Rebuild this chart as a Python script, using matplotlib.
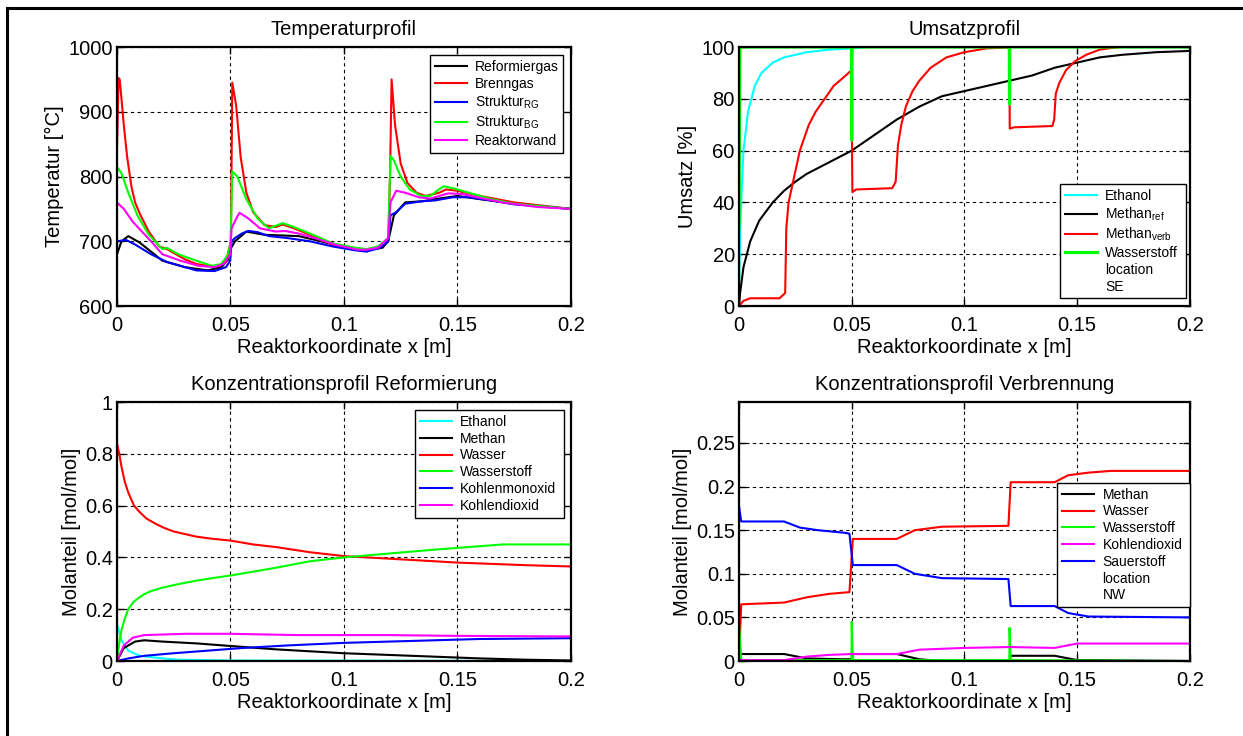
import numpy as np
import matplotlib
matplotlib.use("Agg")
import matplotlib.pyplot as plt
from matplotlib.lines import Line2D
from matplotlib.patches import Rectangle

plt.rcParams['font.family'] = ['Liberation Sans', 'DejaVu Sans']
plt.rcParams['mathtext.fontset'] = 'custom'
plt.rcParams['mathtext.rm'] = 'Liberation Sans'
plt.rcParams['mathtext.it'] = 'Liberation Sans'

# ---------------- Temperaturprofil ----------------
x_ref = [0, 0.002, 0.005, 0.01, 0.02, 0.03, 0.04, 0.046, 0.049, 0.0503, 0.052, 0.057, 0.065,
         0.08, 0.09, 0.1, 0.11, 0.117, 0.1195, 0.122, 0.127, 0.135, 0.14, 0.15, 0.16, 0.175, 0.2]
T_ref = [680, 700, 708, 698, 670, 660, 655, 660, 672, 690, 700, 715, 710,
         708, 700, 690, 686, 690, 700, 740, 760, 762, 765, 770, 765, 758, 750]

x_brenn = [0, 0.0007, 0.0012, 0.002, 0.003, 0.0045, 0.0064, 0.008, 0.01, 0.014, 0.0186, 0.022,
           0.025, 0.03, 0.035, 0.04, 0.045, 0.048, 0.0502, 0.0508, 0.0525, 0.0545, 0.057,
           0.06, 0.065, 0.07, 0.073, 0.078, 0.085, 0.095, 0.105, 0.11, 0.115, 0.1195, 0.1203,
           0.121, 0.1225, 0.125, 0.128, 0.132, 0.136, 0.142, 0.145, 0.15, 0.16, 0.175, 0.2]
T_brenn = [840, 952, 950, 920, 880, 830, 784, 760, 743, 715, 692, 688,
           682, 672, 665, 662, 662, 668, 700, 945, 910, 830, 775,
           745, 725, 722, 726, 720, 710, 695, 688, 686, 690, 700, 800,
           950, 880, 820, 790, 775, 770, 775, 780, 778, 770, 760, 750]

x_srg = [0, 0.004, 0.008, 0.015, 0.022, 0.03, 0.035, 0.043, 0.048, 0.0499, 0.0505, 0.052, 0.055,
         0.058, 0.062, 0.067, 0.075, 0.085, 0.095, 0.105, 0.11, 0.116, 0.1195, 0.1205, 0.123,
         0.127, 0.135, 0.14, 0.148, 0.155, 0.165, 0.175, 0.2]
T_srg = [700, 702, 695, 680, 668, 660, 655, 654, 660, 670, 700, 705, 712,
         716, 714, 708, 705, 700, 692, 686, 684, 690, 700, 740, 745,
         758, 762, 763, 768, 768, 763, 757, 750]

x_sbg = [0, 0.002, 0.005, 0.009, 0.014, 0.02, 0.022, 0.027, 0.035, 0.042, 0.046, 0.049, 0.0501,
         0.0508, 0.053, 0.057, 0.062, 0.067, 0.073, 0.078, 0.085, 0.095, 0.105, 0.11, 0.115,
         0.1195, 0.1205, 0.122, 0.125, 0.129, 0.134, 0.138, 0.141, 0.144, 0.148, 0.155, 0.165,
         0.175, 0.2]
T_sbg = [815, 805, 775, 740, 710, 688, 690, 680, 670, 662, 665, 680, 700,
         808, 800, 765, 735, 720, 728, 722, 712, 697, 690, 688, 692,
         705, 832, 825, 800, 780, 770, 770, 778, 785, 782, 775, 765,
         758, 750]

x_wand = [0, 0.003, 0.007, 0.015, 0.02, 0.028, 0.036, 0.043, 0.047, 0.0499, 0.0505, 0.053, 0.054,
          0.058, 0.063, 0.07, 0.074, 0.08, 0.087, 0.097, 0.106, 0.11, 0.115, 0.1195, 0.1205,
          0.123, 0.127, 0.133, 0.138, 0.142, 0.146, 0.152, 0.16, 0.17, 0.185, 0.2]
T_wand = [760, 750, 730, 700, 680, 670, 662, 660, 665, 680, 720, 738, 744,
          735, 720, 715, 716, 712, 705, 694, 687, 687, 690, 705, 760,
          778, 775, 768, 766, 770, 774, 773, 767, 760, 753, 750]

# ---------------- Umsatzprofil ----------------
x_eth = [0, 0.0005, 0.002, 0.004, 0.007, 0.01, 0.015, 0.02, 0.03, 0.04, 0.05, 0.057]
U_eth = [0, 30, 60, 75, 85, 90, 94, 96, 98, 99, 99.5, 100]

x_mref = [0, 0.0005, 0.002, 0.005, 0.009, 0.015, 0.02, 0.025, 0.03, 0.04, 0.05, 0.06, 0.07,
          0.08, 0.09, 0.1, 0.11, 0.12, 0.13, 0.14, 0.15, 0.16, 0.17, 0.185, 0.2]
U_mref = [0, 5, 15, 25, 33, 40, 44.5, 48, 51, 55.5, 60, 66, 72,
          77, 81, 83, 85, 87, 89, 92, 94, 96, 97, 98, 98.5]

x_mverb = [0, 0.002, 0.005, 0.018, 0.0205, 0.021, 0.022, 0.0245, 0.027, 0.031, 0.034, 0.038,
           0.042, 0.046, 0.0499, 0.0501, 0.0503, 0.052, 0.068, 0.0695, 0.0705, 0.072, 0.074,
           0.077, 0.08, 0.085, 0.092, 0.1, 0.11, 0.1199, 0.1201, 0.122, 0.139, 0.1398, 0.1405,
           0.142, 0.145, 0.149, 0.154, 0.16, 0.165, 0.169]
U_mverb = [0, 2, 3, 3, 5, 30, 40, 50, 60, 70, 75, 80,
           85, 88, 91, 64, 44, 45, 45.5, 48, 62, 70, 77,
           83, 87, 92, 96, 98, 99.5, 99.8, 68.5, 69, 69.5, 72, 82,
           86, 91, 94.5, 97, 99, 99.6, 100]

x_h2u = [0, 0.0004, 0.0499, 0.05, 0.0501, 0.1199, 0.12, 0.1201, 0.2]
U_h2u = [30, 100, 100, 64, 100, 100, 78, 100, 100]

# ---------------- Konzentrationsprofil Reformierung ----------------
x_r_eth = [0, 0.002, 0.005, 0.01, 0.02, 0.027, 0.05, 0.2]
y_r_eth = [0.14, 0.08, 0.04, 0.02, 0.01, 0.005, 0.002, 0.0]

x_r_meth = [0, 0.003, 0.008, 0.012, 0.02, 0.035, 0.05, 0.07, 0.1, 0.13, 0.16, 0.18, 0.2]
y_r_meth = [0, 0.05, 0.075, 0.08, 0.075, 0.068, 0.058, 0.045, 0.03, 0.02, 0.01, 0.005, 0.002]

x_r_h2o = [0, 0.001, 0.002, 0.0035, 0.005, 0.0075, 0.01, 0.013, 0.017, 0.021, 0.025, 0.03,
           0.035, 0.042, 0.05, 0.06, 0.07, 0.085, 0.1, 0.12, 0.15, 0.18, 0.2]
y_r_h2o = [0.84, 0.8, 0.75, 0.69, 0.65, 0.6, 0.575, 0.55, 0.53, 0.513, 0.5, 0.49,
           0.48, 0.472, 0.465, 0.45, 0.44, 0.42, 0.405, 0.395, 0.38, 0.37, 0.365]

x_r_h2 = [0, 0.001, 0.002, 0.0035, 0.005, 0.007, 0.009, 0.012, 0.015, 0.02, 0.025, 0.03, 0.035,
          0.042, 0.05, 0.06, 0.07, 0.085, 0.1, 0.12, 0.14, 0.155, 0.17, 0.2]
y_r_h2 = [0, 0.07, 0.12, 0.165, 0.2, 0.225, 0.24, 0.258, 0.27, 0.283, 0.293, 0.302, 0.31,
          0.32, 0.33, 0.345, 0.36, 0.385, 0.4, 0.415, 0.43, 0.44, 0.45, 0.45]

x_r_co = [0, 0.005, 0.012, 0.025, 0.04, 0.055, 0.075, 0.1, 0.14, 0.16, 0.2]
y_r_co = [0, 0.01, 0.02, 0.03, 0.04, 0.05, 0.06, 0.07, 0.08, 0.085, 0.088]

x_r_co2 = [0, 0.003, 0.007, 0.012, 0.03, 0.05, 0.08, 0.12, 0.15, 0.2]
y_r_co2 = [0, 0.06, 0.09, 0.1, 0.105, 0.105, 0.1, 0.1, 0.097, 0.095]

# ---------------- Konzentrationsprofil Verbrennung ----------------
x_v_meth = [0, 0.02, 0.03, 0.045, 0.0499, 0.0505, 0.07, 0.08, 0.09, 0.1199, 0.1205, 0.14, 0.15, 0.2]
y_v_meth = [0.008, 0.008, 0.003, 0.002, 0.002, 0.008, 0.008, 0.002, 0.0, 0.0, 0.006, 0.006, 0.001, 0.0]

x_v_h2o = [0, 0.001, 0.02, 0.03, 0.04, 0.049, 0.0505, 0.07, 0.078, 0.09, 0.1195, 0.1205,
           0.14, 0.146, 0.155, 0.165, 0.2]
y_v_h2o = [0.0, 0.065, 0.067, 0.073, 0.077, 0.079, 0.14, 0.14, 0.15, 0.154, 0.155, 0.205,
           0.205, 0.213, 0.216, 0.218, 0.218]

x_v_h2 = [0, 0.001, 0.0499, 0.05, 0.0505, 0.1199, 0.12, 0.1205, 0.2]
y_v_h2 = [0.045, 0.001, 0.001, 0.045, 0.001, 0.001, 0.038, 0.001, 0.0]

x_v_co2 = [0, 0.02, 0.03, 0.04, 0.05, 0.07, 0.08, 0.1, 0.12, 0.14, 0.15, 0.2]
y_v_co2 = [0.001, 0.001, 0.005, 0.007, 0.008, 0.008, 0.013, 0.015, 0.016, 0.015, 0.02, 0.02]

x_v_o2 = [0, 0.001, 0.02, 0.027, 0.035, 0.047, 0.049, 0.0505, 0.07, 0.078, 0.09, 0.1195,
          0.1205, 0.14, 0.146, 0.155, 0.2]
y_v_o2 = [0.178, 0.16, 0.16, 0.153, 0.15, 0.147, 0.146, 0.11, 0.11, 0.1, 0.095, 0.094,
          0.063, 0.063, 0.055, 0.051, 0.05]

x_ticks = [0, 0.05, 0.1, 0.15, 0.2]
x_ticklabels = ['0', '0.05', '0.1', '0.15', '0.2']

FS = 14.5
LFS = 10
LW = 1.5

fig = plt.figure(figsize=(12.43, 7.36), dpi=100)
fig.patches.append(Rectangle((6.5 / 1243, -0.2), 1.5, 1.2 - 8 / 736, transform=fig.transFigure,
                             fill=False, edgecolor='black', linewidth=2.2))

pos = {
    'tl': [0.0941, 0.5842, 0.3652, 0.3519],
    'tr': [0.5945, 0.5842, 0.3628, 0.3519],
    'bl': [0.0941, 0.1019, 0.3652, 0.3519],
    'br': [0.5945, 0.1019, 0.3628, 0.3519],
}


def style(ax, title, ylabel, ylim, yticks, yticklabels):
    ax.set_xlim(0, 0.2)
    ax.set_ylim(*ylim)
    ax.set_xticks(x_ticks)
    ax.set_xticklabels(x_ticklabels)
    ax.set_yticks(yticks)
    ax.set_yticklabels(yticklabels)
    ax.tick_params(direction='in', top=True, right=True, labelsize=FS, length=5, width=1)
    ax.tick_params(axis='x', pad=7)
    ax.tick_params(axis='y', pad=3)
    ax.grid(True, color='black', linestyle=(0, (3, 3)), linewidth=0.8)
    ax.set_axisbelow(True)
    for s in ax.spines.values():
        s.set_linewidth(1.6)
    ax.set_title(title, fontsize=FS, pad=9)
    ax.set_xlabel('Reaktorkoordinate x [m]', fontsize=FS, labelpad=2)
    ax.set_ylabel(ylabel, fontsize=FS, labelpad=3)


def legend(ax, handles, labels, x0, y1, w):
    leg = ax.legend(handles, labels, loc='upper left', bbox_to_anchor=(x0, y1 - 0.5, w, 0.5),
                    mode='expand', borderaxespad=0, fontsize=LFS, fancybox=False,
                    framealpha=1, edgecolor='black', handlelength=2.3, handletextpad=0.6,
                    labelspacing=0.2, borderpad=0.35)
    leg.get_frame().set_linewidth(1.0)
    leg.set_zorder(10)
    return leg


blank = Line2D([], [], linestyle='none')

# Temperaturprofil
ax = fig.add_axes(pos['tl'])
l1, = ax.plot(x_ref, T_ref, color='black', lw=LW)
l2, = ax.plot(x_brenn, T_brenn, color='red', lw=LW)
l3, = ax.plot(x_srg, T_srg, color='blue', lw=LW)
l4, = ax.plot(x_sbg, T_sbg, color=(0, 1, 0), lw=LW)
l5, = ax.plot(x_wand, T_wand, color='magenta', lw=LW)
style(ax, 'Temperaturprofil', 'Temperatur [°C]', (600, 1000), [600, 700, 800, 900, 1000],
      ['600', '700', '800', '900', '1000'])
legend(ax, [l1, l2, l3, l4, l5],
       ['Reformiergas', 'Brenngas', r'Struktur$_{\rm RG}$', r'Struktur$_{\rm BG}$', 'Reaktorwand'],
       0.689, 0.969, 0.293)

# Umsatzprofil
ax = fig.add_axes(pos['tr'])
m1, = ax.plot(x_eth, U_eth, color='cyan', lw=LW)
m2, = ax.plot(x_mref, U_mref, color='black', lw=LW)
m3, = ax.plot(x_mverb, U_mverb, color='red', lw=LW)
m4, = ax.plot(x_h2u, U_h2u, color=(0, 1, 0), lw=LW * 1.5)
style(ax, 'Umsatzprofil', 'Umsatz [%]', (0, 100), [0, 20, 40, 60, 80, 100],
      ['0', '20', '40', '60', '80', '100'])
legend(ax, [m1, m2, m3, m4, blank, blank],
       ['Ethanol', r'Methan$_{\rm ref}$', r'Methan$_{\rm verb}$', 'Wasserstoff', 'location', 'SE'],
       0.712, 0.471, 0.279)

# Konzentrationsprofil Reformierung
ax = fig.add_axes(pos['bl'])
r1, = ax.plot(x_r_eth, y_r_eth, color='cyan', lw=LW)
r2, = ax.plot(x_r_meth, y_r_meth, color='black', lw=LW)
r3, = ax.plot(x_r_h2o, y_r_h2o, color='red', lw=LW)
r4, = ax.plot(x_r_h2, y_r_h2, color=(0, 1, 0), lw=LW)
r5, = ax.plot(x_r_co, y_r_co, color='blue', lw=LW)
r6, = ax.plot(x_r_co2, y_r_co2, color='magenta', lw=LW)
style(ax, 'Konzentrationsprofil Reformierung', 'Molanteil [mol/mol]', (0, 1),
      [0, 0.2, 0.4, 0.6, 0.8, 1], ['0', '0.2', '0.4', '0.6', '0.8', '1'])
legend(ax, [r1, r2, r3, r4, r5, r6],
       ['Ethanol', 'Methan', 'Wasser', 'Wasserstoff', 'Kohlenmonoxid', 'Kohlendioxid'],
       0.656, 0.969, 0.329)

# Konzentrationsprofil Verbrennung
ax = fig.add_axes(pos['br'])
v1, = ax.plot(x_v_meth, y_v_meth, color='black', lw=LW)
v2, = ax.plot(x_v_h2o, y_v_h2o, color='red', lw=LW)
v3, = ax.plot(x_v_h2, y_v_h2, color=(0, 1, 0), lw=LW)
v4, = ax.plot(x_v_co2, y_v_co2, color='magenta', lw=LW)
v5, = ax.plot(x_v_o2, y_v_o2, color='blue', lw=LW)
style(ax, 'Konzentrationsprofil Verbrennung', 'Molanteil [mol/mol]', (0, 0.297),
      [0, 0.05, 0.1, 0.15, 0.2, 0.25], ['0', '0.05', '0.1', '0.15', '0.2', '0.25'])
legend(ax, [v1, v2, v3, v4, v5, blank, blank],
       ['Methan', 'Wasser', 'Wasserstoff', 'Kohlendioxid', 'Sauerstoff', 'location', 'NW'],
       0.706, 0.688, 0.294)

fig.savefig('out.png', dpi=100)
